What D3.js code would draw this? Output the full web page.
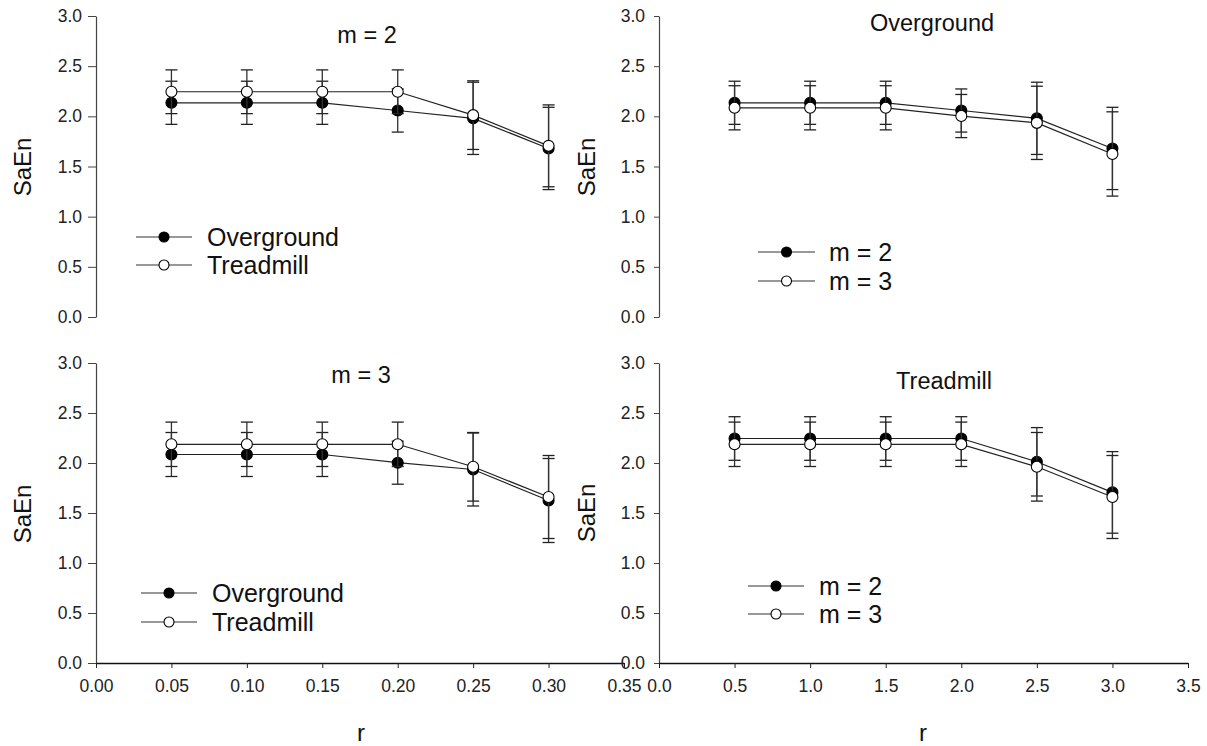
<!DOCTYPE html>
<html>
<head>
<meta charset="utf-8">
<script src="https://cdn.jsdelivr.net/npm/d3@7"></script>
<style>
  html, body { margin: 0; padding: 0; background: #fff; }
  svg { display: block; font-family: Arial, "Liberation Sans", sans-serif; }
</style>
</head>
<body>
<svg id="chart" width="1207" height="746"></svg>
<script>
// ---- data ----
const rLeft = [0.05, 0.10, 0.15, 0.20, 0.25, 0.30];
const rRight = [0.5, 1.0, 1.5, 2.0, 2.5, 3.0];

const overgroundM2 = [2.135, 2.135, 2.135, 2.058, 1.98, 1.68];
const overgroundM2Err = [0.215, 0.215, 0.215, 0.215, 0.36, 0.41];
const overgroundM3 = [2.085, 2.085, 2.085, 2.003, 1.935, 1.625];
const overgroundM3Err = [0.22, 0.22, 0.22, 0.215, 0.365, 0.42];
const treadmillM2 = [2.245, 2.245, 2.245, 2.245, 2.012, 1.706];
const treadmillM2Err = [0.218, 0.218, 0.218, 0.218, 0.342, 0.408];
const treadmillM3 = [2.187, 2.187, 2.187, 2.187, 1.962, 1.66];
const treadmillM3Err = [0.222, 0.222, 0.222, 0.222, 0.343, 0.415];

const yTicks = [0, 0.5, 1.0, 1.5, 2.0, 2.5, 3.0];
const xTicksLeft = [0, 0.05, 0.10, 0.15, 0.20, 0.25, 0.30, 0.35];
const xTicksRight = [0, 0.5, 1.0, 1.5, 2.0, 2.5, 3.0, 3.5];

const panelTitles = ["m = 2", "Overground", "m = 3", "Treadmill"];
const yLabel = "SaEn";
const xLabel = "r";

// ---- layout ----
const svg = d3.select("#chart");

const panels = [
  { title: panelTitles[0], xs: rLeft, xDomain: [0, 0.35], xRange: [96, 624], yRange: [317, 16],
    titlePos: [367, 35], xAxis: false, xTicks: xTicksLeft, xFmt: d3.format(".2f"),
    series: [{ name: "Overground", v: overgroundM2, e: overgroundM2Err, filled: true },
             { name: "Treadmill", v: treadmillM2, e: treadmillM2Err, filled: false }],
    legend: { x0: 136, x1: 192, ys: [237, 265], tx: 207 }, yLab: [23, 167], tick: 8 },
  { title: panelTitles[1], xs: rRight, xDomain: [0, 3.5], xRange: [659, 1188], yRange: [317, 16],
    titlePos: [932, 23], xAxis: false, xTicks: xTicksRight, xFmt: d3.format(".1f"),
    series: [{ name: "m = 2", v: overgroundM2, e: overgroundM2Err, filled: true },
             { name: "m = 3", v: overgroundM3, e: overgroundM3Err, filled: false }],
    legend: { x0: 758, x1: 815, ys: [252, 281], tx: 829 }, yLab: [587, 167], tick: 5 },
  { title: panelTitles[2], xs: rLeft, xDomain: [0, 0.35], xRange: [96, 624], yRange: [663, 363],
    titlePos: [361, 375], xAxis: true, xTicks: xTicksLeft, xFmt: d3.format(".2f"),
    series: [{ name: "Overground", v: overgroundM3, e: overgroundM3Err, filled: true },
             { name: "Treadmill", v: treadmillM3, e: treadmillM3Err, filled: false }],
    legend: { x0: 141, x1: 197, ys: [593, 622], tx: 212 }, yLab: [23, 514], xLab: [361, 733], tick: 8 },
  { title: panelTitles[3], xs: rRight, xDomain: [0, 3.5], xRange: [659, 1188], yRange: [663, 363],
    titlePos: [944, 381], xAxis: true, xTicks: xTicksRight, xFmt: d3.format(".1f"),
    series: [{ name: "m = 2", v: treadmillM2, e: treadmillM2Err, filled: true },
             { name: "m = 3", v: treadmillM3, e: treadmillM3Err, filled: false }],
    legend: { x0: 748, x1: 804, ys: [586, 614], tx: 819 }, yLab: [587, 513], xLab: [923, 733], tick: 5 }
];

const R = 5.5;     // marker radius
const CAP = 6;     // half cap width

panels.forEach(p => {
  const x = d3.scaleLinear().domain(p.xDomain).range(p.xRange);
  const y = d3.scaleLinear().domain([0, 3]).range(p.yRange);
  const g = svg.append("g");

  // y axis
  const ya = g.append("g")
    .attr("transform", `translate(${p.xRange[0]},0)`)
    .call(d3.axisLeft(y).tickValues(yTicks).tickFormat(d3.format(".1f"))
      .tickSize(p.tick).tickSizeOuter(0).tickPadding(14 - p.tick));
  ya.select(".domain").attr("stroke", "#444").attr("stroke-width", 1.2);
  ya.selectAll(".tick line").attr("stroke", "#444");
  ya.selectAll("text").attr("font-size", 17.5).attr("fill", "#222").attr("font-family", null);

  // x axis
  if (p.xAxis) {
    const xa = g.append("g")
      .attr("transform", `translate(0,${p.yRange[0]})`)
      .call(d3.axisBottom(x).tickValues(p.xTicks).tickFormat(p.xFmt)
        .tickSize(5).tickSizeOuter(0).tickPadding(12));
    xa.select(".domain").attr("stroke", "#111").attr("stroke-width", 1.4);
    xa.selectAll(".tick line").attr("stroke", "#222");
    xa.selectAll("text").attr("font-size", 17.5).attr("fill", "#222").attr("font-family", null);
    g.append("text").attr("x", p.xLab[0]).attr("y", p.xLab[1]).attr("dy", "0.35em")
      .attr("text-anchor", "middle").attr("font-size", 24).attr("fill", "#111").text(xLabel);
  }

  // y label
  g.append("text")
    .attr("transform", `translate(${p.yLab[0]},${p.yLab[1]}) rotate(-90)`)
    .attr("dy", "0.35em").attr("text-anchor", "middle")
    .attr("font-size", 24).attr("fill", "#111").text(yLabel);

  // title
  g.append("text").attr("x", p.titlePos[0]).attr("y", p.titlePos[1]).attr("dy", "0.35em")
    .attr("text-anchor", "middle").attr("font-size", 23.5).attr("fill", "#111").text(p.title);

  // series
  const line = d3.line().x((d, i) => x(p.xs[i])).y(d => y(d));
  p.series.forEach(s => {
    const sg = g.append("g");
    // error bars
    s.v.forEach((v, i) => {
      const cx = x(p.xs[i]);
      const hi = y(v + s.e[i]), lo = y(v - s.e[i]);
      sg.append("line").attr("x1", cx).attr("x2", cx).attr("y1", hi).attr("y2", lo)
        .attr("stroke", "#333").attr("stroke-width", 1.3);
      [hi, lo].forEach(yy => sg.append("line")
        .attr("x1", cx - CAP).attr("x2", cx + CAP).attr("y1", yy).attr("y2", yy)
        .attr("stroke", "#222").attr("stroke-width", 1.3));
    });
    sg.append("path").datum(s.v).attr("d", line).attr("fill", "none")
      .attr("stroke", "#222").attr("stroke-width", 1.2);
    sg.selectAll("circle").data(s.v).enter().append("circle")
      .attr("cx", (d, i) => x(p.xs[i])).attr("cy", d => y(d)).attr("r", R)
      .attr("fill", s.filled ? "#000" : "#fff").attr("stroke", "#000").attr("stroke-width", 1.1);
  });

  // legend
  p.series.forEach((s, k) => {
    const ly = p.legend.ys[k];
    g.append("line").attr("x1", p.legend.x0).attr("x2", p.legend.x1).attr("y1", ly).attr("y2", ly)
      .attr("stroke", "#333").attr("stroke-width", 1.2);
    g.append("circle").attr("cx", (p.legend.x0 + p.legend.x1) / 2).attr("cy", ly).attr("r", 5)
      .attr("fill", s.filled ? "#000" : "#fff").attr("stroke", "#000").attr("stroke-width", 1.1);
    g.append("text").attr("x", p.legend.tx).attr("y", ly).attr("dy", "0.35em")
      .attr("font-size", 25).attr("fill", "#111").text(s.name);
  });
});
</script>
</body>
</html>
